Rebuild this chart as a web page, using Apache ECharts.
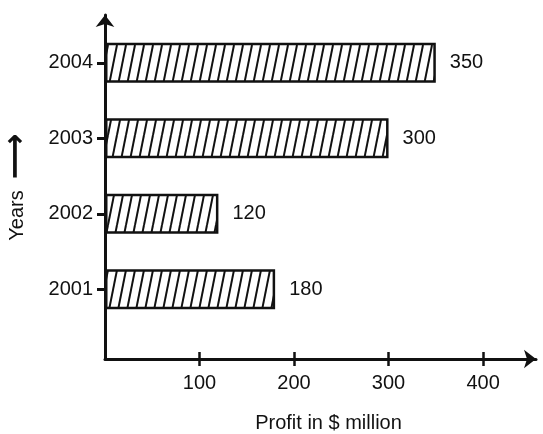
<!DOCTYPE html>
<html>
<head>
<meta charset="utf-8">
<script src="https://cdn.jsdelivr.net/npm/echarts@6/dist/echarts.min.js"></script>
<style>
  html, body { margin: 0; padding: 0; background: #fff; }
  #chart { width: 543px; height: 434px; }
</style>
</head>
<body>
<div id="chart"></div>
<script>
var years = ['2001', '2002', '2003', '2004'];
var profits = [180, 120, 300, 350];
var xTicks = [100, 200, 300, 400];

// hatch pattern "/" for the bars
var hatch = document.createElement('canvas');
hatch.width = 9;
hatch.height = 45;
var ctx = hatch.getContext('2d');
ctx.fillStyle = '#fff';
ctx.fillRect(0, 0, 9, 45);
ctx.strokeStyle = '#111';
ctx.lineWidth = 2;
[-9, 0, 9].forEach(function (x0) {
    ctx.beginPath();
    ctx.moveTo(x0, 45);
    ctx.lineTo(x0 + 9, 0);
    ctx.stroke();
});

var myChart = echarts.init(document.getElementById('chart'));

var font = 'Liberation Sans';
var ink = '#111';

option = {
    backgroundColor: '#fff',
    animation: false,
    textStyle: { fontFamily: font, color: ink },
    grid: [
        // data grid: category bands line up with the years
        { left: 105, right: 7, top: 25, bottom: 107, outerBoundsMode: 'none', containLabel: false },
        // frame grid: the long arrowed axes
        { left: 105, right: 7, top: 15, bottom: 75, outerBoundsMode: 'none', containLabel: false }
    ],
    xAxis: [
        { gridIndex: 0, type: 'value', min: 0, max: 456, show: false },
        {
            gridIndex: 1, type: 'value', min: 0, max: 456, position: 'bottom',
            axisLine: {
                show: true, symbol: ['none', 'arrow'], symbolSize: [14, 12],
                lineStyle: { color: ink, width: 3 }
            },
            axisTick: { show: true, customValues: xTicks, length: 7, lineStyle: { color: ink, width: 2.5 } },
            axisLabel: { customValues: xTicks, fontSize: 20, color: ink, margin: 14 },
            splitLine: { show: false },
            name: 'Profit in $ million',
            nameLocation: 'middle',
            nameGap: 54,
            nameTextStyle: { fontSize: 20, color: ink, padding: [0, 0, 0, 16] }
        },
        {
            gridIndex: 1, type: 'value', min: 0, max: 456, position: 'bottom',
            axisLine: { show: false },
            axisTick: { show: true, inside: true, customValues: xTicks, length: 7, lineStyle: { color: ink, width: 2.5 } },
            axisLabel: { show: false },
            splitLine: { show: false }
        }
    ],
    yAxis: [
        {
            gridIndex: 0, type: 'category', data: years,
            axisLine: { show: false },
            axisTick: { show: true, alignWithLabel: true, length: 8, lineStyle: { color: ink, width: 3 } },
            axisLabel: { fontSize: 20, color: ink, margin: 12 }
        },
        {
            gridIndex: 1, type: 'value', min: 0, max: 1,
            axisLine: {
                show: true, symbol: ['none', 'arrow'], symbolSize: [14, 12],
                lineStyle: { color: ink, width: 3 }
            },
            axisTick: { show: false },
            axisLabel: { show: false },
            splitLine: { show: false },
            name: 'Years  {a|⟶}',
            nameLocation: 'middle',
            nameRotate: 90,
            nameGap: 72,
            nameTextStyle: {
                fontSize: 20, color: ink,
                padding: [0, 0, 0, 0],
                rich: { a: { fontSize: 32, fontWeight: 'bold', color: ink, fontFamily: 'DejaVu Sans' } }
            }
        }
    ],
    series: [
        {
            name: 'Profit',
            type: 'bar',
            xAxisIndex: 0,
            yAxisIndex: 0,
            data: profits,
            barWidth: 40,
            itemStyle: {
                color: { image: hatch, repeat: 'repeat' },
                borderColor: ink,
                borderWidth: 2.5
            },
            label: {
                show: true,
                position: 'right',
                distance: 14,
                fontSize: 20,
                color: ink
            }
        }
    ]
};

myChart.setOption(option);
</script>
</body>
</html>
